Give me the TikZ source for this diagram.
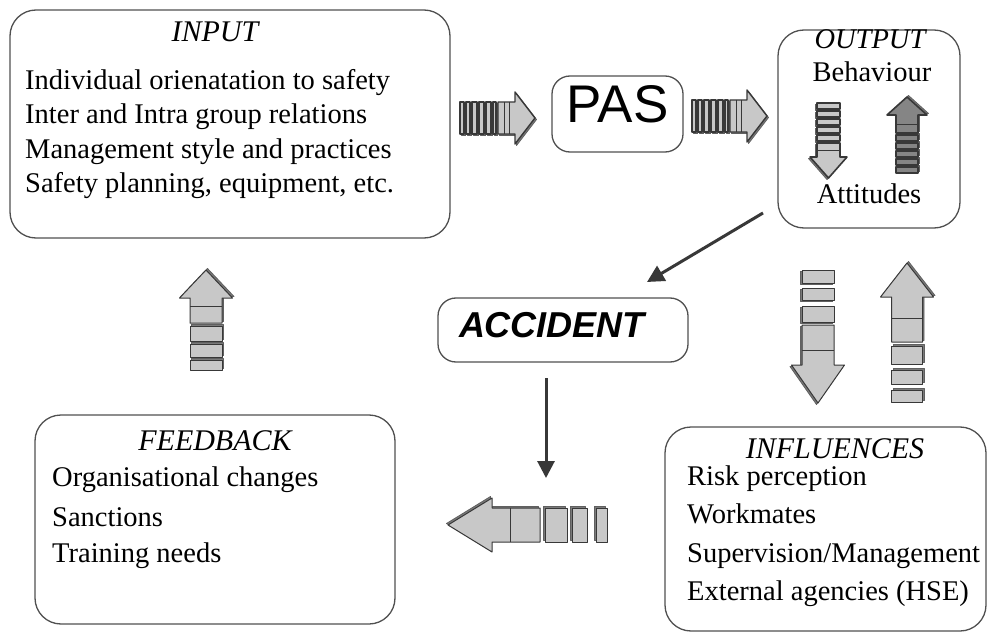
\documentclass[tikz,border=0pt]{standalone}
\usepackage{fontspec}
\setmainfont{Liberation Serif}
\newfontfamily\sansfam{Liberation Sans}
\usetikzlibrary{arrows.meta}

\definecolor{edge}{HTML}{505050}
\definecolor{slabfill}{HTML}{C8C8C8}
\definecolor{slabdark}{HTML}{383838}
\definecolor{slabmid}{HTML}{7A7A7A}
\definecolor{slabdeep}{HTML}{858585}

\tikzset{
  box/.style={draw=edge, line width=1.3pt, rounded corners=26pt, inner sep=0pt},
  smallbox/.style={box, rounded corners=18pt},
  title/.style={font=\fontsize{30}{36}\selectfont\itshape, anchor=base, inner sep=0pt},
  item/.style={font=\fontsize{28.5}{34}\selectfont, anchor=base west, inner sep=0pt},
  label/.style={font=\fontsize{28.5}{34}\selectfont, anchor=base, inner sep=0pt},
  slab/.style={draw=slabdark, line width=1pt, line join=round},
  slabshade/.style={draw=slabdark!80, line width=0.8pt, fill=slabmid, line join=round},
  thinarrow/.style={draw=slabdark, line width=3pt, -{Triangle[length=17pt,width=17pt]}},
}

% Block arrow built from separate slices, drawn along local +x and then placed.
% #1 placement, #2 shaft half-width, #3 head half-width, #4 start of head piece,
% #5 head base, #6 tip, #7 loose slices a/b, #8 cut lines in head piece, #9 fill
\newcommand\slabarrow[9]{%
  \begin{scope}[#1]
    \foreach \a/\b in {#7}{
      \draw[slabshade] (\a+1.5,-#2+1.5) rectangle (\b+1.5,#2+1.5);
      \draw[slab,fill=#9] (\a,-#2) rectangle (\b,#2);
    }
    \draw[slabshade] (#4+1.5,-#2+1.5) -- (#5+1.5,-#2+1.5) -- (#5+1.5,-#3+1.5) -- (#6+1.5,1.5)
       -- (#5+1.5,#3+1.5) -- (#5+1.5,#2+1.5) -- (#4+1.5,#2+1.5) -- cycle;
    \draw[slab,fill=#9] (#4,-#2) -- (#5,-#2) -- (#5,-#3) -- (#6,0) -- (#5,#3) -- (#5,#2) -- (#4,#2) -- cycle;
    \foreach \c in {#8}{ \draw[slabdark, line width=1pt] (\c,-#2) -- (\c,#2); }
  \end{scope}}

\begin{document}
\begin{tikzpicture}[x=1pt,y=-1pt]
  \useasboundingbox[fill=white] (0,0) rectangle (989,634);

  % boxes
  \node[box, minimum width=440pt, minimum height=228pt] (input) at (230,124) {};
  \node[smallbox, minimum width=131pt, minimum height=76pt] (pas) at (617.5,114) {};
  \node[box, minimum width=182pt, minimum height=198pt] (output) at (869,129) {};
  \node[smallbox, minimum width=250pt, minimum height=64pt] (accident) at (563,330) {};
  \node[box, minimum width=360pt, minimum height=209pt] (feedback) at (215,519.5) {};
  \node[box, minimum width=321pt, minimum height=204pt] (influences) at (825.5,529) {};

  % INPUT
  \node[title] (inputtitle) at (215,42) {INPUT};
  \node[item] (in1) at (25,89) {Individual orienatation to safety};
  \node[item] (in2) at (25,123.5) {Inter and Intra group relations};
  \node[item] (in3) at (25,158) {Management style and practices};
  \node[item] (in4) at (25,192) {Safety planning, equipment, etc.};

  % PAS
  \node[font=\sansfam\fontsize{53}{53}\selectfont, anchor=base, inner sep=0pt] (pastext) at (617.5,122) {PAS};

  % OUTPUT
  \node[title, font=\fontsize{28.5}{34}\selectfont\itshape] (outputtitle) at (870,49) {OUTPUT};
  \node[label] (behav) at (872,82) {Behaviour};
  \node[label] (attit) at (869,203) {Attitudes};

  % ACCIDENT
  \node[font=\sansfam\bfseries\itshape\fontsize{36}{40}\selectfont, anchor=base, inner sep=0pt] (acctext) at (552,337) {ACCIDENT};

  % FEEDBACK
  \node[title] (fbtitle) at (215,450) {FEEDBACK};
  \node[item] (fb1) at (52,486) {Organisational changes};
  \node[item] (fb2) at (52,526) {Sanctions};
  \node[item] (fb3) at (52,562) {Training needs};

  % INFLUENCES
  \node[title] (inftitle) at (835,458) {INFLUENCES};
  \node[item] (inf1) at (687,485) {Risk perception};
  \node[item] (inf2) at (687,523) {Workmates};
  \node[item] (inf3) at (687,562) {Supervision/Management};
  \node[item] (inf4) at (687,600) {External agencies (HSE)};

  % thin connectors
  \coordinate (outfoot) at (763,213);
  \coordinate (accroof) at (647,282);
  \coordinate (accfoot) at (546,378);
  \coordinate (fbentry) at (546,478);
  \draw[thinarrow] (outfoot) -- (accroof);
  \draw[thinarrow] (accfoot) -- (fbentry);

  % sliced block arrows
  \slabarrow{shift={(460,118)}}{16}{26}{38}{55}{75}{0/4,6/10,12/17,19/24,26/31,33/36}{44,49}{slabfill, line width=1.4pt}
  \slabarrow{shift={(692,116)}}{16}{26}{38}{55}{75}{0/4,6/10,12/17,19/24,26/31,33/36}{44,49}{slabfill, line width=1.4pt}
  \slabarrow{shift={(206,370)},rotate=90}{16}{26.5}{47}{72}{100}{0/10,13/26,29/44}{64}{slabfill}
  \slabarrow{shift={(818,270)},rotate=-90}{16}{26.5}{55}{95}{133}{0/13,18/30,36/52}{80}{slabfill}
  \slabarrow{shift={(907,402)},rotate=90}{15.5}{26.5}{60}{105}{139}{0/12,18/32,38/56}{84}{slabfill}
  \slabarrow{shift={(607,525)},rotate=180}{17}{27}{67}{115}{159}{0/11,20/35,40/62}{97}{slabfill}
  \slabarrow{shift={(828.5,103)},rotate=-90}{11.5}{18.5}{40}{54}{75}{0/6,8/14,16/22,24/30,32/38}{47}{slabfill, line width=1.6pt}
  \slabarrow{shift={(907,173)},rotate=90}{11}{20}{40}{58}{76}{0/6,8/14,16/22,24/30,32/38}{48}{slabdeep, line width=1.6pt}
\end{tikzpicture}
\end{document}
